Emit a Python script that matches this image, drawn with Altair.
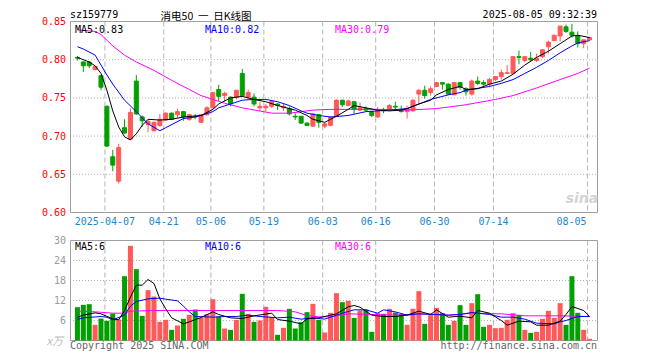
import altair as alt
import pandas as pd

# ---------------- data ----------------
opens = [.803, .797, .797, .787, .779, .739, .673, .641, .711, .696,
         .772, .725, .715, .707, .714, .721, .730, .728, .732, .722,
         .726, .718, .728, .737, .761, .753, .751, .751, .782, .751,
         .751, .737, .737, .739, .742, .737, .736, .726, .726, .717,
         .713, .728, .713, .714, .726, .747, .740, .745, .734, .736,
         .732, .725, .735, .735, .739, .734, .732, .733, .755, .760,
         .757, .765, .770, .768, .754, .770, .762, .755, .772, .770,
         .768, .774, .778, .782, .782, .804, .799, .802, .799, .804,
         .817, .825, .831, .843, .836, .831, .821, .826]
closes = [.802, .792, .792, .791, .764, .687, .662, .685, .704, .731,
          .729, .720, .719, .718, .722, .730, .722, .732, .725, .728,
          .725, .728, .737, .757, .752, .756, .742, .760, .753, .757,
          .742, .739, .739, .745, .740, .739, .729, .725, .717, .714,
          .729, .718, .716, .725, .747, .741, .746, .735, .737, .734,
          .727, .733, .733, .740, .738, .732, .736, .747, .760, .753,
          .762, .770, .768, .755, .770, .764, .758, .772, .769, .768,
          .774, .778, .783, .783, .804, .803, .804, .800, .802, .813,
          .823, .832, .844, .837, .832, .821, .826, .829]
highs = [.805, .798, .798, .792, .780, .740, .682, .690, .722, .736,
         .780, .727, .722, .719, .729, .731, .731, .736, .733, .729,
         .729, .729, .739, .758, .767, .758, .752, .760, .788, .761,
         .756, .745, .742, .747, .743, .742, .739, .730, .726, .718,
         .730, .729, .718, .726, .748, .747, .748, .745, .744, .739,
         .733, .738, .737, .742, .745, .740, .740, .748, .762, .766,
         .765, .771, .770, .769, .771, .771, .764, .774, .778, .773,
         .776, .778, .787, .793, .805, .812, .804, .810, .808, .814,
         .825, .833, .844, .846, .847, .837, .826, .830]
lows = [.799, .784, .789, .786, .760, .686, .654, .638, .703, .695,
        .728, .712, .705, .706, .712, .720, .721, .724, .720, .720,
        .722, .717, .727, .736, .746, .745, .739, .748, .752, .748,
        .739, .733, .732, .737, .734, .733, .727, .721, .716, .713,
        .712, .711, .710, .713, .725, .738, .739, .729, .733, .732,
        .725, .724, .730, .733, .734, .731, .723, .732, .742, .749,
        .753, .764, .761, .754, .754, .761, .753, .753, .767, .766,
        .764, .772, .774, .781, .782, .794, .797, .798, .797, .802,
        .808, .824, .824, .835, .829, .816, .815, .825]
volumes = [10.0, 10.7, 10.9, 4.7, 6.6, 5.9, 8.1, 6.3, 19.3, 28.4,
           21.4, 7.4, 15.1, 13.2, 5.6, 6.2, 3.2, 4.5, 6.5, 7.7,
           9.3, 6.8, 7.9, 12.4, 7.2, 3.6, 3.2, 6.2, 14.0, 8.0,
           5.6, 6.0, 10.1, 7.1, 1.7, 3.8, 9.5, 3.6, 5.5, 8.5,
           11.0, 6.2, 2.4, 8.3, 14.2, 11.5, 11.9, 6.8, 9.0, 9.3,
           2.6, 8.2, 8.0, 9.5, 8.4, 8.0, 4.7, 9.5, 14.8, 5.0,
           7.6, 9.8, 8.2, 4.7, 5.9, 10.6, 4.7, 11.2, 13.9, 4.1,
           4.7, 3.7, 3.8, 6.2, 8.2, 7.7, 3.2, 2.3, 2.6, 6.5,
           8.9, 6.8, 11.2, 4.7, 19.3, 8.3, 3.2, 0.5]

# price moving averages (read at trading-day positions)
ma5_idx = [0, 2, 3, 4, 5, 6, 7, 8, 9, 10, 11, 12, 14, 16, 18, 21, 23, 24, 26, 28,
           30, 32, 34, 35, 37, 39, 40, 42, 43, 44, 46, 47, 49, 51, 53, 55, 56, 58, 60, 61,
           63, 65, 66, 68, 70, 72, 74, 76, 78, 80, 82, 84, 85, 87]
ma5_val = [.803, .797, .792, .782, .760, .733, .712, .699, .695, .703, .714, .722, .721, .722, .725, .727, .735, .742, .750, .752,
           .748, .745, .740, .738, .734, .727, .722, .718, .722, .726, .735, .740, .737, .734, .733, .734, .736, .742, .747, .754,
           .761, .765, .761, .762, .768, .772, .781, .793, .803, .811, .821, .831, .832, .829]
ma10_idx = [0, 1, 3, 5, 6, 8, 10, 12, 14, 15, 18, 20, 21, 23, 24, 26, 28, 30, 32, 34,
            36, 38, 39, 41, 43, 46, 49, 53, 56, 58, 60, 63, 65, 66, 70, 72, 74, 76, 78, 80,
            82, 84, 85, 87]
ma10_val = [.817, .814, .806, .780, .768, .747, .732, .716, .707, .711, .723, .725, .727, .732, .737, .742, .747, .748, .748, .745,
            .740, .733, .730, .727, .725, .727, .732, .734, .736, .742, .748, .754, .757, .760, .765, .769, .774, .782, .790, .799,
            .809, .818, .822, .825]
ma30_idx = [0, 3, 4, 6, 8, 10, 13, 16, 19, 21, 25, 28, 33, 36, 40, 43, 48, 51, 56, 61,
            66, 71, 74, 78, 82, 85, 87]
ma30_val = [.839, .837, .833, .818, .806, .797, .786, .773, .761, .753, .743, .737, .730, .730, .734, .735, .735, .735, .734, .736,
            .741, .748, .753, .763, .774, .782, .789]

# volume moving averages
vma5_idx = [0, 1, 3, 4, 6, 7, 8, 9, 10, 11, 12, 13, 14, 15, 16, 18, 19, 21, 23, 24,
            26, 28, 30, 33, 34, 36, 38, 39, 41, 44, 46, 47, 48, 50, 52, 54, 56, 58, 60, 61,
            63, 65, 67, 68, 70, 72, 73, 75, 77, 78, 80, 82, 83, 84, 86, 87]
vma5_val = [7.0, 7.6, 8.3, 8.0, 6.5, 6.2, 9.0, 13.0, 16.6, 16.6, 18.3, 17.1, 12.5, 9.5, 6.8, 5.0, 5.6, 6.9, 8.6, 7.8,
            6.8, 6.6, 7.4, 8.2, 6.3, 5.8, 5.0, 6.5, 6.8, 8.0, 10.1, 10.5, 10.0, 7.6, 7.2, 7.2, 7.6, 8.8, 7.8, 9.2,
            7.0, 7.3, 6.8, 9.0, 8.2, 6.0, 4.6, 5.8, 5.6, 4.6, 4.6, 5.8, 7.8, 10.2, 9.0, 7.2]
vma10_idx = [0, 1, 4, 5, 6, 8, 9, 10, 12, 14, 15, 17, 18, 19, 20, 23, 25, 27, 29, 31,
             34, 36, 38, 40, 42, 43, 45, 47, 49, 51, 52, 54, 56, 58, 61, 63, 65, 67, 70, 72,
             74, 76, 78, 81, 82, 83, 85, 87]
vma10_val = [6.3, 6.8, 7.2, 7.0, 6.2, 7.6, 10.3, 11.7, 12.5, 12.7, 12.4, 11.9, 10.3, 8.6, 7.2, 7.0, 7.2, 7.2, 7.6, 7.2,
             6.8, 7.0, 6.4, 6.8, 6.4, 7.0, 8.2, 9.2, 9.2, 8.2, 9.2, 8.6, 7.6, 8.0, 7.8, 7.6, 7.8, 8.4, 7.8, 7.0,
             7.0, 6.4, 5.2, 5.0, 5.6, 6.0, 7.2, 7.2]
vma30_idx = [0, 3, 6, 8, 9, 13, 17, 21, 26, 30, 34, 37, 39, 41, 43, 46, 50, 54, 58, 63,
             67, 72, 76, 82, 87]
vma30_val = [8.8, 8.6, 8.2, 8.2, 8.8, 9.0, 9.0, 9.0, 9.0, 9.0, 9.0, 8.6, 7.5, 7.1, 7.1, 8.0, 7.8, 7.6, 8.0, 7.6,
             8.2, 8.0, 7.4, 7.4, 7.2]

date_idx = [5, 15, 23, 32, 42, 51, 61, 71, 87]
date_lbl = ["2025-04-07", "04-21", "05-06", "05-19", "06-03", "06-16", "06-30", "07-14", "08-05"]
price_ticks = [0.60, 0.65, 0.70, 0.75, 0.80, 0.85]
price_grid = [0.65, 0.70, 0.75, 0.80]
vol_ticks = [6, 12, 18, 24, 30]
vol_grid = [6, 12, 18, 24]

# ---------------- styling ----------------
RED = "#ff5959"
GREEN = "#00a000"
GRID = "#b4b4b4"
FRAME = "#a0a0a0"
MONO = "DejaVu Sans Mono"

n = len(opens)
df = pd.DataFrame({"i": list(range(n)), "o": opens, "h": highs, "l": lows,
                   "c": closes, "v": volumes})
df["dir"] = ["up" if c >= o else "down" for o, c in zip(opens, closes)]

xs = alt.Scale(domain=[-5 / 12, n - 5 / 12], range=[62, 590], nice=False, zero=False)
ps = alt.Scale(domain=[0.60, 0.85], range=[204.5, 13.5], nice=False, zero=False)
vs = alt.Scale(domain=[0, 30], range=[332.5, 232.5], nice=False, zero=False)
col = alt.Color("dir:N", scale=alt.Scale(domain=["up", "down"], range=[RED, GREEN]), legend=None)
stk = alt.Stroke("dir:N", scale=alt.Scale(domain=["up", "down"], range=[RED, GREEN]), legend=None)

X = alt.X("i:Q", scale=xs, axis=None)

dates = pd.DataFrame({"idx": date_idx, "lbl": date_lbl})
GX = alt.X("gx:Q", scale=xs, axis=None)

layers = []

# horizontal dotted grids
layers.append(alt.Chart(pd.DataFrame({"p": price_grid})).mark_rule(
    color=GRID, strokeDash=[1, 2], strokeWidth=1).encode(
    y=alt.Y("p:Q", scale=ps, axis=None), x=alt.value(62), x2=alt.value(590)))
layers.append(alt.Chart(pd.DataFrame({"p": vol_grid})).mark_rule(
    color=GRID, strokeDash=[1, 2], strokeWidth=1).encode(
    y=alt.Y("p:Q", scale=vs, axis=None), x=alt.value(62), x2=alt.value(590)))

# vertical dashed grids
layers.append(alt.Chart(dates).transform_calculate(gx="datum.idx - 1/3").mark_rule(
    color=GRID, strokeDash=[5, 3], strokeWidth=1).encode(
    x=GX, y=alt.value(13.5), y2=alt.value(204.5)))
layers.append(alt.Chart(dates).transform_calculate(gx="datum.idx - 1/3").mark_rule(
    color=GRID, strokeDash=[5, 3], strokeWidth=1).encode(
    x=GX, y=alt.value(232.5), y2=alt.value(332.5)))

# frames
frame_df = pd.DataFrame({"k": [0]})
layers.append(alt.Chart(frame_df).mark_rect(fillOpacity=0, stroke=FRAME, strokeWidth=1).encode(
    x=alt.value(62.5), x2=alt.value(589.5), y=alt.value(13.5), y2=alt.value(204.5)))
layers.append(alt.Chart(frame_df).mark_rect(fillOpacity=0, stroke=FRAME, strokeWidth=1).encode(
    x=alt.value(62.5), x2=alt.value(589.5), y=alt.value(232.5), y2=alt.value(332.5)))

# candles
layers.append(alt.Chart(df).mark_rule(strokeWidth=1).encode(
    x=X, y=alt.Y("l:Q", scale=ps, axis=None), y2="h:Q", color=col))
layers.append(alt.Chart(df).mark_bar(size=4, strokeWidth=1).encode(
    x=X, y=alt.Y("o:Q", scale=ps, axis=None), y2="c:Q", color=col, stroke=stk))

# price MAs
def ma_line(idx, val, color, scale):
    d = pd.DataFrame({"i": idx, "m": val})
    return alt.Chart(d).mark_line(color=color, strokeWidth=1).encode(
        x=X, y=alt.Y("m:Q", scale=scale, axis=None))

layers.append(ma_line(ma30_idx, ma30_val, "#ff00ff", ps))
layers.append(ma_line(ma10_idx, ma10_val, "#0000ff", ps))
layers.append(ma_line(ma5_idx, ma5_val, "#000000", ps))

# volume bars
layers.append(alt.Chart(df).mark_bar(size=5).encode(
    x=X, y=alt.Y("v:Q", scale=vs, axis=None), color=col))
layers.append(ma_line(vma30_idx, vma30_val, "#ff00ff", vs))
layers.append(ma_line(vma10_idx, vma10_val, "#0000ff", vs))
layers.append(ma_line(vma5_idx, vma5_val, "#000000", vs))

# axis labels
layers.append(alt.Chart(pd.DataFrame({"p": price_ticks})).mark_text(
    align="right", baseline="middle", font=MONO, fontSize=10, color="#ff0000", dy=0.5).encode(
    y=alt.Y("p:Q", scale=ps, axis=None), x=alt.value(58), text=alt.Text("p:Q", format=".2f")))
layers.append(alt.Chart(pd.DataFrame({"p": vol_ticks})).mark_text(
    align="right", baseline="middle", font=MONO, fontSize=10, color="#999999").encode(
    y=alt.Y("p:Q", scale=vs, axis=None), x=alt.value(58), text=alt.Text("p:Q", format="d")))
layers.append(alt.Chart(dates.iloc[:-1]).transform_calculate(gx="datum.idx - 1/3").mark_text(
    align="center", baseline="alphabetic", font=MONO, fontSize=10, color="#1a88d0").encode(
    x=GX, y=alt.value(217), text="lbl:N"))
layers.append(alt.Chart(dates.iloc[-1:]).transform_calculate(gx="datum.idx - 1/3").mark_text(
    align="right", baseline="alphabetic", font=MONO, fontSize=10, color="#1a88d0", dx=-1).encode(
    x=GX, y=alt.value(217), text="lbl:N"))

# free texts
def label(txt, x, y, color="#000000", align="left", font=MONO, size=10, **kw):
    return alt.Chart(pd.DataFrame({"t": [txt]})).mark_text(
        align=align, baseline="alphabetic", font=font, fontSize=size, color=color, **kw).encode(
        x=alt.value(x), y=alt.value(y), text="t:N")

NB = "\u00a0"
layers += [
    label("sz159779", 62, 9.5),
    label("消电50" + NB * 2 + "一" + NB * 2 + "日K线图", 198, 12.3, align="center",
          font="Noto Sans CJK SC", size=10.5),
    label("2025-08-05 09:32:39", 589, 9.5, align="right"),
    label("MA5:0.83", 67, 24.8),
    label("MA10:0.82", 197, 24.8, color="#0000ff"),
    label("MA30:0.79", 327, 24.8, color="#ff00ff"),
    label("MA5:6", 67, 242),
    label("MA10:6", 197, 242, color="#0000ff"),
    label("MA30:6", 327, 242, color="#ff00ff"),
    label("x万", 55, 337, color="#bbbbbb", align="right", font="Noto Sans CJK SC", size=11, fontStyle="italic"),
    label("Copyright 2025 SINA.COM", 62, 341, color="#666666"),
    label("http://finance.sina.com.cn", 589, 341, color="#666666", align="right"),
    label("sina", 574, 195, color="#d4d4d4", align="center", font="DejaVu Sans", size=14,
          fontStyle="italic", fontWeight="bold"),
]

chart = alt.layer(*layers).resolve_scale(y="independent").properties(
    width=644, height=344, autosize="none", padding=0
).configure_view(stroke=None)

chart.save("out.html", embed_options={"renderer": "svg", "actions": False})
